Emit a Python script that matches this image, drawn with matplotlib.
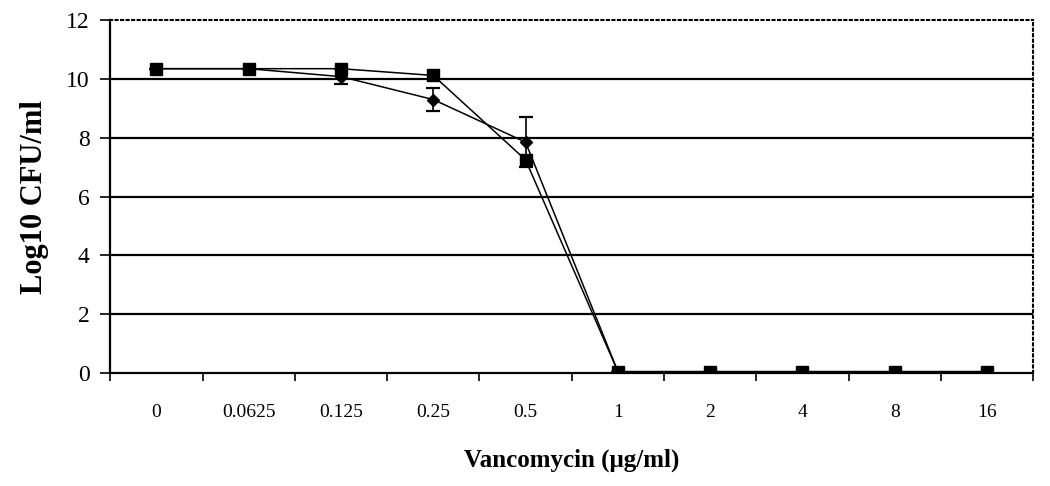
import numpy as np
import matplotlib
matplotlib.use('Agg')
import matplotlib.pyplot as plt

conc_labels = ['0', '0.0625', '0.125', '0.25', '0.5', '1', '2', '4', '8', '16']
cfu_squares = [10.35, 10.35, 10.35, 10.12, 7.25, 0.05, 0.05, 0.05, 0.05, 0.05]
cfu_diamonds = [10.35, 10.35, 10.08, 9.3, 7.85, 0.05]
err_diamonds = [0.0, 0.0, 0.25, 0.4, 0.85, 0.0]

plt.rcParams['font.family'] = ['Liberation Serif', 'DejaVu Serif']

fig = plt.figure(figsize=(10.5, 4.86), dpi=100)
ax = fig.add_axes([0.105, 0.2325, 0.879, 0.726])

x = np.arange(len(conc_labels))
xd = np.arange(len(cfu_diamonds))

# gridlines
for g in [2, 4, 6, 8, 10]:
    ax.axhline(g, color='black', lw=1.6, zorder=1)

ax.errorbar(xd, cfu_diamonds, yerr=err_diamonds, fmt='-D', color='black',
            ms=6.5, lw=1.1, capsize=5, elinewidth=1.2, capthick=1.6, zorder=3)
ax.plot(x, cfu_squares, '-s', color='black', ms=9, lw=1.1, zorder=4)

ax.set_xlim(-0.5, len(conc_labels) - 0.5)
ax.set_ylim(0, 12)
ax.set_yticks(range(0, 13, 2))
ax.set_xticks(x)
ax.set_xticklabels(conc_labels, fontsize=14)
ax.set_xticks(np.arange(-0.5, len(conc_labels), 1), minor=True)
ax.tick_params(axis='x', which='major', length=0, pad=22)
ax.tick_params(axis='x', which='minor', length=6, width=1.2, direction='out')
ax.tick_params(axis='y', length=7, width=1.2, direction='out', labelsize=17, pad=8)

ax.spines['left'].set_linewidth(1.6)
ax.spines['bottom'].set_linewidth(1.6)
for s in ['top', 'right']:
    ax.spines[s].set_linestyle(':')
    ax.spines[s].set_linewidth(1.5)

ax.set_xlabel('Vancomycin (μg/ml)', fontsize=18, fontweight='bold', labelpad=20)
ax.set_ylabel('Log10 CFU/ml', fontsize=22, fontweight='bold', labelpad=12)

fig.savefig('out.png', dpi=100)
